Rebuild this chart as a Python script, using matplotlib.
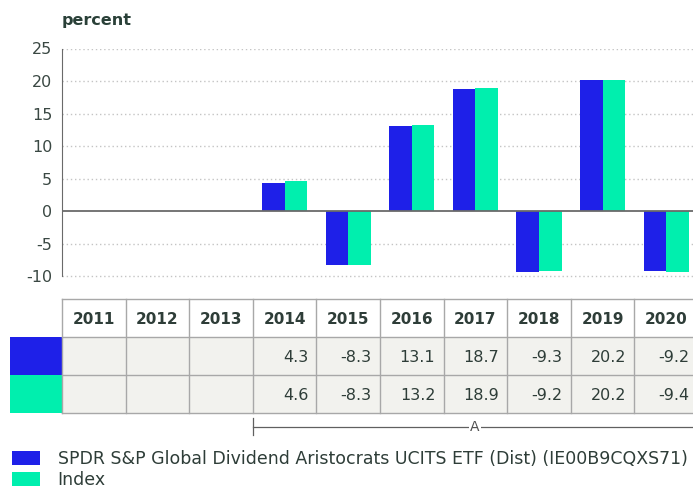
import matplotlib
matplotlib.use("Agg")
import matplotlib.pyplot as plt
from matplotlib.patches import Rectangle, Patch

plt.rcParams['font.family'] = ['DejaVu Sans']
plt.rcParams['axes.unicode_minus'] = False

years = ["2011", "2012", "2013", "2014", "2015", "2016", "2017", "2018", "2019", "2020"]
fund = [None, None, None, 4.3, -8.3, 13.1, 18.7, -9.3, 20.2, -9.2]
index = [None, None, None, 4.6, -8.3, 13.2, 18.9, -9.2, 20.2, -9.4]
yticks = [25, 20, 15, 10, 5, 0, -5, -10]
fund_name = "SPDR S&P Global Dividend Aristocrats UCITS ETF (Dist) (IE00B9CQXS71)"
index_name = "Index"

blue = "#1e20e8"
green = "#00efae"
txt = "#2e3d38"
W, H = 693, 488

fig = plt.figure(figsize=(W / 100, H / 100), dpi=100)

def box(l, t, r, b):
    return [l / W, 1 - b / H, (r - l) / W, (b - t) / H]

# ---- bar chart
ax = fig.add_axes(box(62, 48.5, 698, 299))
ax.set_xlim(-0.5, 9.5)
ax.set_ylim(-13.5, 25)
w = 0.355
for i in range(len(years)):
    if fund[i] is not None:
        ax.bar(i - w / 2, fund[i], w, color=blue, zorder=3)
    if index[i] is not None:
        ax.bar(i + w / 2, index[i], w, color=green, zorder=3)
ax.set_yticks(yticks)
ax.set_yticklabels([str(t) for t in yticks])
ax.tick_params(axis='y', length=0, pad=7, labelsize=11.5, labelcolor="#3a4843")
ax.set_xticks([])
for t in yticks:
    if t != 0:
        ax.axhline(t, color="#c4c4c4", lw=1, ls=(0, (1, 2)), zorder=1)
ax.axhline(0, color="#6a6a6a", lw=1.3, zorder=4)
for s in ["top", "right", "bottom"]:
    ax.spines[s].set_visible(False)
ax.spines["left"].set_color("#6a6a6a")
ax.spines["left"].set_bounds(-10, 25)
fig.text(62 / W, 1 - 21 / H, "percent", fontsize=11.5, fontweight="bold",
         color="#2a4038", va="center", ha="left")

# ---- table
tx = fig.add_axes(box(62, 299, 698, 413))
tx.set_xlim(-0.5, 9.5)
tx.set_ylim(3, 0)
tx.axis("off")
grid = "#a8a8a8"
for r in (1, 2):
    tx.add_patch(Rectangle((-0.5, r), 10, 1, facecolor="#f2f2ee", edgecolor="none"))
for r in range(4):
    tx.plot([-0.5, 9.5], [r, r], color=grid, lw=1, clip_on=False)
for c in range(11):
    tx.plot([c - 0.5, c - 0.5], [0, 3], color=grid, lw=1, clip_on=False)
lx = -0.5 - 52 / 63.6
tx.add_patch(Rectangle((lx, 1), -0.5 - lx, 1, facecolor=blue, edgecolor="none", clip_on=False))
tx.add_patch(Rectangle((lx, 2), -0.5 - lx, 1, facecolor=green, edgecolor="none", clip_on=False))
for i, y in enumerate(years):
    tx.text(i, 0.55, y, ha="center", va="center", fontsize=11, fontweight="bold", color=txt)
    for r, vals in ((1, fund), (2, index)):
        if vals[i] is not None:
            tx.text(i + 0.5 - 0.13, r + 0.55, f"{vals[i]:.1f}", ha="right", va="center",
                    fontsize=11.5, color=txt)

# ---- "A" bracket
ay = 1 - 427 / H
fig.add_artist(plt.Line2D([253 / W, 1.01], [ay, ay], color="#606060", lw=0.9))
fig.add_artist(plt.Line2D([253 / W, 253 / W], [1 - 418 / H, 1 - 435 / H], color="#606060", lw=0.9))
fig.text(475 / W, ay, "A", ha="center", va="center", fontsize=10, color="#505050",
         bbox=dict(facecolor="white", edgecolor="none", pad=1))

# ---- legend
handles = [Patch(facecolor=blue), Patch(facecolor=green)]
fig.legend(handles, [fund_name, index_name], loc="upper left",
           bbox_to_anchor=(12 / W, 1 - 450 / H), frameon=False, fontsize=12.5,
           handlelength=1.6, handleheight=0.8, handletextpad=1.03,
           labelspacing=0.17, borderpad=0, borderaxespad=0, labelcolor=txt)

fig.savefig("out.png", dpi=100)
